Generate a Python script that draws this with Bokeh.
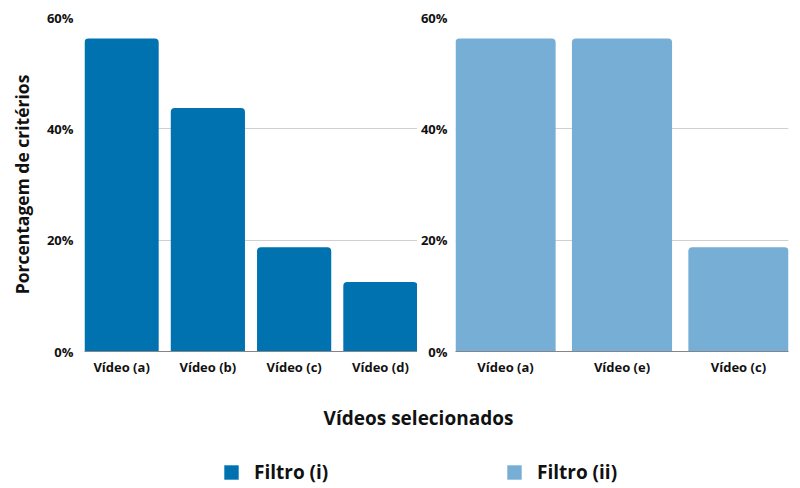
from bokeh.plotting import figure
from bokeh.models import Range1d, FixedTicker, Legend, LegendItem, Label
from bokeh.layouts import column, row
from bokeh.embed import file_html
from bokeh.resources import INLINE

# ---- data ----
cats_i = ["Vídeo (a)", "Vídeo (b)", "Vídeo (c)", "Vídeo (d)"]
vals_i = [56.25, 43.75, 18.75, 12.5]
cats_ii = ["Vídeo (a)", "Vídeo (e)", "Vídeo (c)"]
vals_ii = [56.25, 56.25, 18.75]
y_ticks = [0, 20, 40, 60]
y_tick_labels = ["0%", "20%", "40%", "60%"]
series_names = ["Filtro (i)", "Filtro (ii)"]
y_title = "Porcentagem de critérios"
x_title = "Vídeos selecionados"

DARK = "#0072b0"
LIGHT = "#76aed5"
FONT = "Open Sans"
TXT = "#111111"
BW = 0.86


def panel(cats, vals, color, width, left_border, right_border, ystandoff, ylabel=None):
    n = len(cats)
    xs = list(range(n))
    p = figure(width=width, height=385,
               x_range=Range1d(-BW / 2, n - 1 + BW / 2), y_range=Range1d(0, 60),
               output_backend="svg", toolbar_location=None,
               min_border_left=left_border, min_border_right=right_border,
               min_border_top=17, min_border_bottom=34)
    p.vbar(x=xs, top=vals, width=BW, fill_color=color, line_color=None,
           border_radius=(4, 4, 0, 0))
    p.outline_line_color = None
    p.xgrid.visible = False
    p.ygrid.grid_line_color = "#d0d0d0"
    p.ygrid.grid_line_width = 1
    p.ygrid.ticker = FixedTicker(ticks=y_ticks)

    p.xaxis.ticker = FixedTicker(ticks=xs)
    p.xaxis.major_label_overrides = {i: c for i, c in zip(xs, cats)}
    p.xaxis.axis_line_color = "#858585"
    p.xaxis.major_tick_line_color = None
    p.xaxis.minor_tick_line_color = None
    p.xaxis.major_tick_out = 0
    p.xaxis.major_tick_in = 0
    p.xaxis.major_label_standoff = 6

    p.yaxis.ticker = FixedTicker(ticks=y_ticks)
    p.yaxis.major_label_overrides = {t: l for t, l in zip(y_ticks, y_tick_labels)}
    p.yaxis.axis_line_color = None
    p.yaxis.major_tick_line_color = None
    p.yaxis.minor_tick_line_color = None
    p.yaxis.major_tick_out = 0
    p.yaxis.major_tick_in = 0
    p.yaxis.major_label_standoff = ystandoff

    for ax in (p.xaxis, p.yaxis):
        ax.major_label_text_font = FONT
        ax.major_label_text_font_size = "13px"
        ax.major_label_text_font_style = "bold"
        ax.major_label_text_color = TXT
    if ylabel:
        p.yaxis.axis_label = ylabel
        p.yaxis.axis_label_text_font = FONT
        p.yaxis.axis_label_text_font_size = "17.5px"
        p.yaxis.axis_label_text_font_style = "bold"
        p.yaxis.axis_label_text_color = TXT
        p.yaxis.axis_label_standoff = 10
    return p


p1 = panel(cats_i, vals_i, DARK, 417, 84, 0, 11, ylabel=y_title)
p2 = panel(cats_ii, vals_ii, LIGHT, 383, 38, 12, 8)

# bottom: shared x title and legend
p3 = figure(width=800, height=103, x_range=Range1d(0, 800), y_range=Range1d(0, 103),
            x_axis_location=None, y_axis_location=None,
            output_backend="svg", toolbar_location=None, min_border=0)
p3.outline_line_color = None
p3.grid.visible = False

p3.add_layout(Label(x=418, y=71, text=x_title, text_align="center",
                    text_baseline="middle", text_font=FONT, text_font_size="19px",
                    text_font_style="bold", text_color=TXT))

# hidden renderers carrying the series, used only for the legend swatches
ra = p3.vbar(x=list(range(len(vals_i))), top=vals_i, width=BW,
             fill_color=DARK, line_color=None, visible=False)
rb = p3.vbar(x=list(range(len(vals_ii))), top=vals_ii, width=BW,
             fill_color=LIGHT, line_color=None, visible=False)

for r, name, xpos in ((ra, series_names[0], 222), (rb, series_names[1], 505)):
    leg = Legend(items=[LegendItem(label=name, renderers=[r])], location=(xpos, 3),
                 orientation="horizontal", padding=0, margin=0,
                 border_line_color=None, background_fill_alpha=0,
                 inactive_fill_alpha=0,
                 label_text_font=FONT, label_text_font_size="19px",
                 label_text_font_style="bold", label_text_color=TXT,
                 glyph_width=18, glyph_height=18, label_standoff=14,
                 label_height=18)
    p3.add_layout(leg)

layout = column(row(p1, p2), p3)
open("out.html", "w").write(file_html(layout, INLINE))
